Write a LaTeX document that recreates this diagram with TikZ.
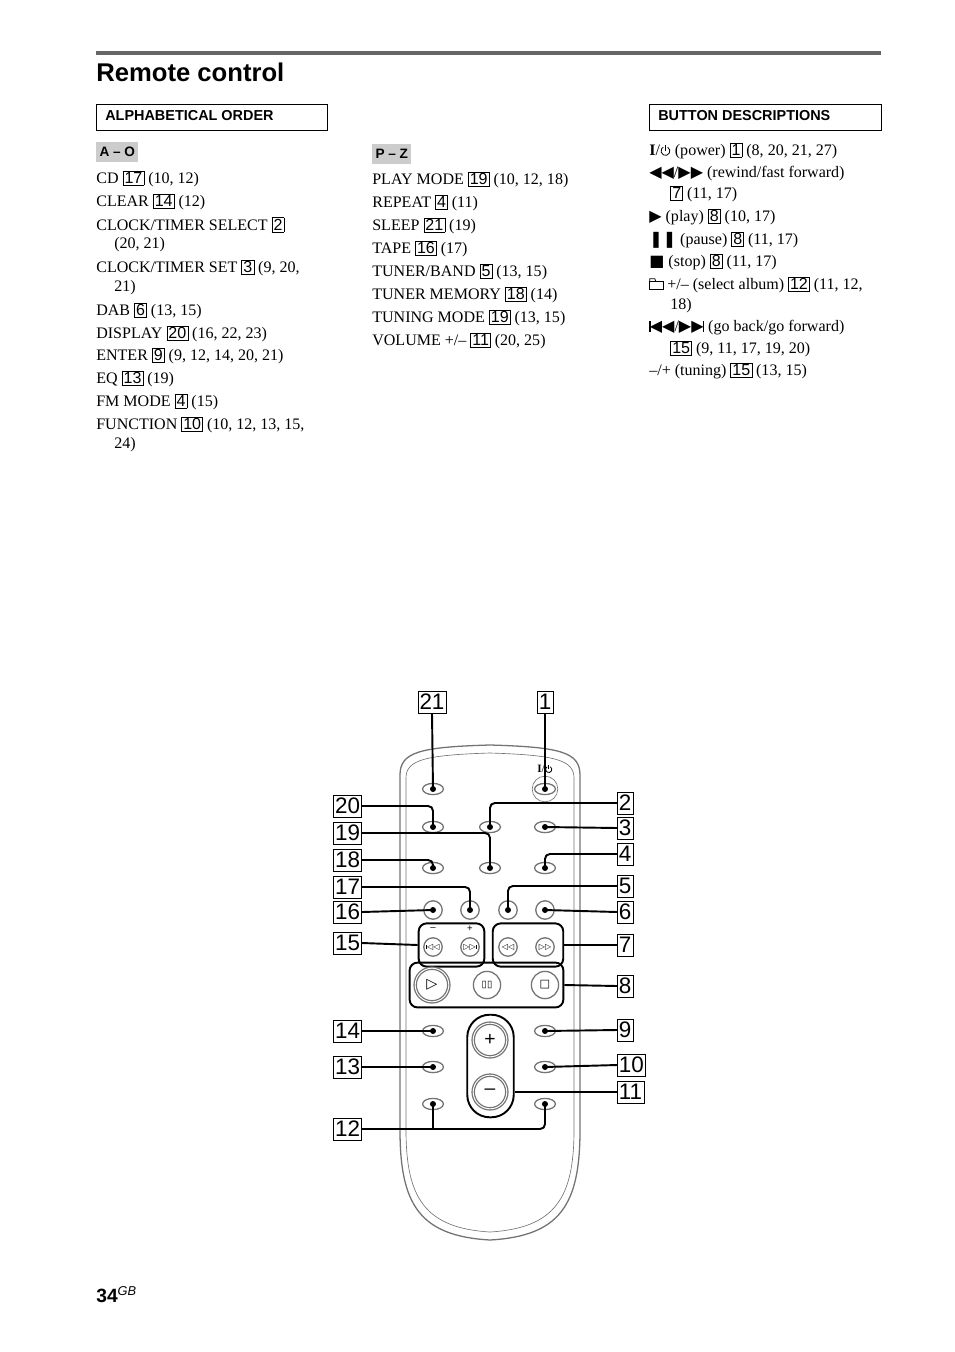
\documentclass[tikz,border=0pt]{standalone}
\usepackage{fontspec}
\setmainfont{Liberation Serif}
\setsansfont{Liberation Sans}
\newfontfamily\symf{DejaVu Sans}
\usetikzlibrary{shapes.geometric,positioning}
\newcommand\bn[1]{{\sffamily\setlength\fboxsep{0.8pt}\fbox{#1}}}
\newcommand\pwr{\tikz[baseline=0pt,line width=0.5pt]{\draw (0.3ex,1.17ex) arc (60:-240:0.6ex); \draw (0,0.65ex)--(0,1.5ex);}}
\newcommand\fold{\tikz[baseline=0pt,line width=0.5pt]{\draw (0,0) rectangle (1.8ex,1.2ex); \draw (0,1.2ex)--(0,1.5ex)--(0.7ex,1.5ex)--(0.8ex,1.2ex);}}
\newcommand\skb{{\symf\rule{0.9pt}{1.3ex}\kern-0.1ex◀◀}}
\newcommand\skf{{\symf▶▶\kern-0.1ex\rule{0.9pt}{1.3ex}}}
\begin{document}
\begin{tikzpicture}[x=0.624pt,y=-0.624pt,
    txt/.style={anchor=west, inner sep=0pt, font=\fontsize{10}{11}\selectfont},
    head/.style={anchor=west, inner sep=0pt, font=\sffamily\bfseries\fontsize{9}{10}\selectfont},
    tag/.style={draw, font=\sffamily\fontsize{14}{14}\selectfont, inner sep=1pt, minimum height=13.5pt},
    btn/.style={ellipse, draw=black!55, thick, minimum width=13pt, minimum height=7pt, inner sep=0pt},
    rbtn/.style={circle, draw=black!55, thick, minimum size=11.5pt, inner sep=0pt},
    grp/.style={draw, line width=1.2pt, rounded corners=5pt},
    lead/.style={line width=1.2pt, rounded corners=3pt},
    dot/.style={fill=black}
  ]
  \useasboundingbox (0,0) rectangle (954,1352);
  % Title and rule
  \draw[black!60, line width=2.5pt] (96,53) -- (881,53);
  \node[anchor=west, inner sep=0pt, font=\sffamily\bfseries\fontsize{16}{16}\selectfont] (title) at (96,72) {Remote control};
  \draw (96,104) rectangle (327,130);
  \node[head] (hal) at (105,116) {ALPHABETICAL ORDER};
  \draw (649,104) rectangle (881,130);
  \node[head] (hbd) at (658,116) {BUTTON DESCRIPTIONS};
  \node[fill=black!20, anchor=west, inner sep=2pt, minimum height=13pt, font=\sffamily\bfseries\fontsize{8.5}{9}\selectfont] (hao) at (96,152) {A -- O};
  \node[fill=black!20, anchor=west, inner sep=2pt, minimum height=13pt, font=\sffamily\bfseries\fontsize{8.5}{9}\selectfont] (hpz) at (372,154) {P -- Z};
  % A - O
  \node[txt] at (96,179) {CD \bn{17} (10, 12)};
  \node[txt] at (96,202) {CLEAR \bn{14} (12)};
  \node[txt] at (96,225) {CLOCK/TIMER SELECT \bn{2}};
  \node[txt] at (114,245) {(20, 21)};
  \node[txt] at (96,268) {CLOCK/TIMER SET \bn{3} (9, 20,};
  \node[txt] at (114,288) {21)};
  \node[txt] at (96,311) {DAB \bn{6} (13, 15)};
  \node[txt] at (96,334) {DISPLAY \bn{20} (16, 22, 23)};
  \node[txt] at (96,356) {ENTER \bn{9} (9, 12, 14, 20, 21)};
  \node[txt] at (96,379) {EQ \bn{13} (19)};
  \node[txt] at (96,402) {FM MODE \bn{4} (15)};
  \node[txt] at (96,425) {FUNCTION \bn{10} (10, 12, 13, 15,};
  \node[txt] at (114,445) {24)};
  % P - Z
  \node[txt] at (372,180) {PLAY MODE \bn{19} (10, 12, 18)};
  \node[txt] at (372,203) {REPEAT \bn{4} (11)};
  \node[txt] at (372,226) {SLEEP \bn{21} (19)};
  \node[txt] at (372,249) {TAPE \bn{16} (17)};
  \node[txt] at (372,272) {TUNER/BAND \bn{5} (13, 15)};
  \node[txt] at (372,295) {TUNER MEMORY \bn{18} (14)};
  \node[txt] at (372,318) {TUNING MODE \bn{19} (13, 15)};
  \node[txt] at (372,341) {VOLUME +/-- \bn{11} (20, 25)};
  % Button descriptions
  \node[txt] at (649,151) {\textbf{I}/\pwr{} (power) \bn{1} (8, 20, 21, 27)};
  \node[txt] at (649,174) {{\symf◀◀}/{\symf▶▶} (rewind/fast forward)};
  \node[txt] at (670,194) {\bn{7} (11, 17)};
  \node[txt] at (649,217) {{\symf▶} (play) \bn{8} (10, 17)};
  \node[txt] at (649,240) {{\symf❚❚} (pause) \bn{8} (11, 17)};
  \node[txt] at (649,262) {{\symf■} (stop) \bn{8} (11, 17)};
  \node[txt] at (649,285) {\fold{} +/-- (select album) \bn{12} (11, 12,};
  \node[txt] at (670,306) {18)};
  \node[txt] at (649,328) {\skb/\skf{} (go back/go forward)};
  \node[txt] at (670,349) {\bn{15} (9, 11, 17, 19, 20)};
  \node[txt] at (649,371) {--/+ (tuning) \bn{15} (13, 15)};
  % Remote body
  \draw[black!55, thick] (400,1130) -- (400,775) .. controls (400,752) and (420,747) .. (490,745)
    .. controls (560,747) and (580,752) .. (580,775) -- (580,1130)
    .. controls (580,1205) and (560,1236) .. (490,1240) .. controls (420,1236) and (400,1205) .. (400,1130) -- cycle;
  \draw[black!55] (406,1130) -- (406,778) .. controls (406,760) and (425,755) .. (490,753)
    .. controls (555,755) and (574,760) .. (574,778) -- (574,1130)
    .. controls (574,1198) and (555,1228) .. (490,1232) .. controls (425,1228) and (406,1198) .. (406,1130) -- cycle;
  % Buttons
  \node[btn] (b21) at (433,789) {};
  \node[circle, draw=black!55, minimum size=16pt] (pwr) at (545,789) {};
  \node[btn] (b1) at (545,789) {};
  \node[font=\fontsize{7}{7}\selectfont, inner sep=0pt] (pwrl) at (545,769) {\textbf{I}/\pwr};
  \node[btn] (b20) at (433,827) {};
  \node[btn] (b2) at (490,827) {};
  \node[btn] (b3) at (545,827) {};
  \node[btn] (b18) at (433,868) {};
  \node[btn] (b19) at (490,868) {};
  \node[btn] (b4) at (545,868) {};
  \node[rbtn] (b16) at (433,910) {};
  \node[rbtn] (b17) at (470,910) {};
  \node[rbtn] (b5) at (508,910) {};
  \node[rbtn] (b6) at (545,910) {};
  \node[grp, minimum width=41pt, minimum height=27pt] (g15) at (451.5,945) {};
  \node[grp, minimum width=44pt, minimum height=27pt] (g7) at (528,945) {};
  \node[rbtn, font=\symf\fontsize{5}{5}\selectfont] (bprev) at (433,947) {\rule{0.5pt}{1ex}◁◁};
  \node[rbtn, font=\symf\fontsize{5}{5}\selectfont] (bnext) at (470,947) {▷▷\rule{0.5pt}{1ex}};
  \node[rbtn, font=\symf\fontsize{5}{5}\selectfont] (brew) at (508,947) {◁◁};
  \node[rbtn, font=\symf\fontsize{5}{5}\selectfont] (bff) at (545,947) {▷▷};
  \node[font=\sffamily\fontsize{6}{6}\selectfont, inner sep=0pt] (mn) at (433,929) {--};
  \node[font=\sffamily\fontsize{6}{6}\selectfont, inner sep=0pt] (pl) at (470,929) {+};
  \node[grp, minimum width=96pt, minimum height=28pt] (g8) at (486.5,985) {};
  \node[circle, draw=black!55, double, thick, minimum size=21pt, font=\symf\fontsize{9}{9}\selectfont, inner sep=0pt] (bplay) at (432,985) {▷};
  \node[circle, draw=black!55, thick, minimum size=17pt, font=\symf\fontsize{6}{6}\selectfont, inner sep=0pt] (bpause) at (487,985) {▯▯};
  \node[circle, draw=black!55, thick, minimum size=17pt, font=\symf\fontsize{7}{7}\selectfont, inner sep=0pt] (bstop) at (545,985) {□};
  \node[btn] (b14) at (433,1031) {};
  \node[btn] (b9) at (545,1031) {};
  \node[btn] (b13) at (433,1067) {};
  \node[btn] (b10) at (545,1067) {};
  \node[btn] (b12a) at (433,1104) {};
  \node[btn] (b12b) at (545,1104) {};
  \node[draw, line width=1.2pt, rounded corners=14pt, minimum width=29pt, minimum height=64pt] (vol) at (490.5,1066) {};
  \node[circle, draw=black!55, double, thick, minimum size=21pt, font=\sffamily\fontsize{12}{12}\selectfont, inner sep=0pt] (bup) at (490,1040) {+};
  \node[circle, draw=black!55, double, thick, minimum size=21pt, font=\sffamily\fontsize{12}{12}\selectfont, inner sep=0pt] (bdn) at (490,1092) {--};
  % Number tags
  \node[tag] (l21) at (432,702) {21};
  \node[tag] (l1) at (545,702) {1};
  \node[tag, anchor=east] (l20) at (362,806) {20};
  \node[tag, anchor=east] (l19) at (362,833) {19};
  \node[tag, anchor=east] (l18) at (362,860) {18};
  \node[tag, anchor=east] (l17) at (362,887) {17};
  \node[tag, anchor=east] (l16) at (362,912) {16};
  \node[tag, anchor=east] (l15) at (362,943) {15};
  \node[tag, anchor=east] (l14) at (362,1031) {14};
  \node[tag, anchor=east] (l13) at (362,1067) {13};
  \node[tag, anchor=east] (l12) at (362,1129) {12};
  \node[tag, anchor=west] (l2) at (617,803) {2};
  \node[tag, anchor=west] (l3) at (617,828) {3};
  \node[tag, anchor=west] (l4) at (617,854) {4};
  \node[tag, anchor=west] (l5) at (617,886) {5};
  \node[tag, anchor=west] (l6) at (617,912) {6};
  \node[tag, anchor=west] (l7) at (617,945) {7};
  \node[tag, anchor=west] (l8) at (617,986) {8};
  \node[tag, anchor=west] (l9) at (617,1030) {9};
  \node[tag, anchor=west] (l10) at (617,1065) {10};
  \node[tag, anchor=west] (l11) at (617,1092) {11};
  % Leaders
  \draw[lead] (l21.south) -- (b21.center);
  \draw[lead] (l1.south) -- (b1.center);
  \draw[lead] (l20.east) -| (b20.center);
  \draw[lead] (l2.west) -| (b2.center);
  \draw[lead] (l3.west) -- (b3.center);
  \draw[lead] (l19.east) -| (b19.center);
  \draw[lead] (l18.east) -| (b18.center);
  \draw[lead] (l4.west) -| (b4.center);
  \draw[lead] (l17.east) -| (b17.center);
  \draw[lead] (l5.west) -| (b5.center);
  \draw[lead] (l16.east) -- (b16.center);
  \draw[lead] (l6.west) -- (b6.center);
  \draw[lead] (l15.east) -- (g15.west);
  \draw[lead] (g7.east) -- (l7.west);
  \draw[lead] (g8.east) -- (l8.west);
  \draw[lead] (l14.east) -- (b14.center);
  \draw[lead] (l9.west) -- (b9.center);
  \draw[lead] (l13.east) -- (b13.center);
  \draw[lead] (l10.west) -- (b10.center);
  \draw[lead] (l11.west) -- (l11.west -| vol.east);
  \draw[lead] (l12.east) -| (b12b.center);
  \draw[lead] (b12a.center) -- (b12a |- l12.east);
  % Dots
  \foreach \b in {b21,b1,b20,b2,b3,b19,b18,b4,b17,b5,b16,b6,b14,b9,b13,b10,b12a,b12b}
    \fill[dot] (\b.center) circle (3);
  % Page number
  \node[anchor=west, inner sep=0pt, font=\sffamily\bfseries\fontsize{12}{12}\selectfont] (pg) at (96,1295) {34\textsuperscript{\itshape\mdseries GB}};
\end{tikzpicture}
\end{document}
